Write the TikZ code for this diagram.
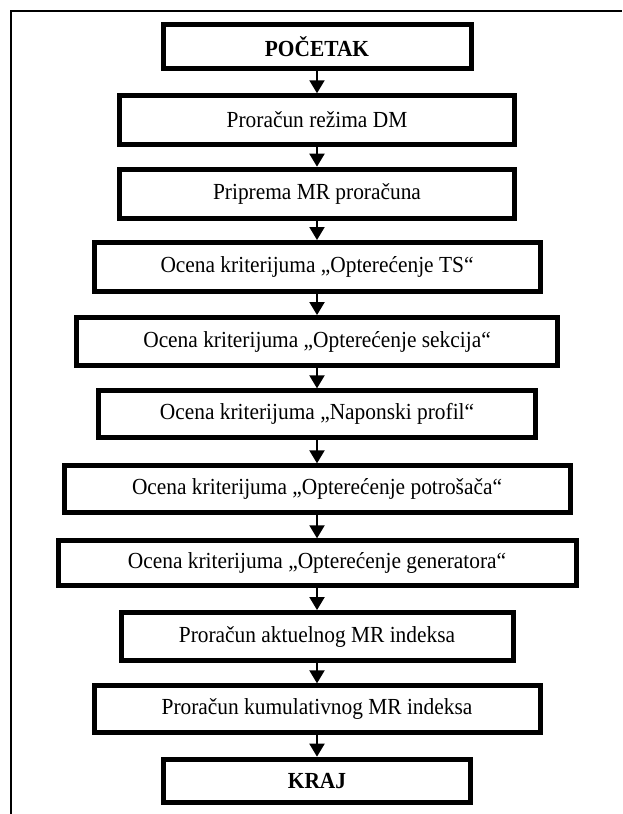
\documentclass[tikz,border=0pt]{standalone}
\usepackage{fontspec}
\setmainfont{Liberation Serif}[FakeStretch=0.93]
\usetikzlibrary{arrows.meta}
\begin{document}
\begin{tikzpicture}[x=1pt,y=-1pt,
  stepbox/.style={draw=black, line width=5pt, fill=white, inner sep=0pt,
    font=\fontsize{23}{27}\selectfont, align=center},
  flow/.style={line width=2pt, -{Triangle[width=15pt,length=13pt]}},
  frame/.style={line width=1.5pt}]
\useasboundingbox (0,0) rectangle (622,814);
\fill[white] (0,0) rectangle (622,814);
\coordinate (fa) at (11,814);
\coordinate (fb) at (11,11);
\coordinate (fc) at (622,11);
\draw[frame] (fa) -- (fb) -- (fc);

\node[stepbox, minimum width=308pt, minimum height=44pt] (b1) at (317,46.2) {\textbf{POČETAK}};
\node[stepbox, minimum width=395pt, minimum height=48.5pt] (b2) at (317,120) {Proračun režima DM};
\node[stepbox, minimum width=395pt, minimum height=49pt] (b3) at (317,193.7) {Priprema MR proračuna};
\node[stepbox, minimum width=446pt, minimum height=49pt] (b4) at (317,267) {Ocena kriterijuma „Opterećenje TS“};
\node[stepbox, minimum width=481pt, minimum height=48.3pt] (b5) at (317,341.7) {Ocena kriterijuma „Opterećenje sekcija“};
\node[stepbox, minimum width=437pt, minimum height=46.7pt] (b6) at (317,414.2) {Ocena kriterijuma „Naponski profil“};
\node[stepbox, minimum width=506pt, minimum height=46.7pt] (b7) at (317,489.2) {Ocena kriterijuma „Opterećenje potrošača“};
\node[stepbox, minimum width=518pt, minimum height=45pt] (b8) at (317,563.3) {Ocena kriterijuma „Opterećenje generatora“};
\node[stepbox, minimum width=392pt, minimum height=48.3pt] (b9) at (317,636.7) {Proračun aktuelnog MR indeksa};
\node[stepbox, minimum width=446pt, minimum height=46.7pt] (b10) at (317,709.2) {Proračun kumulativnog MR indeksa};
\node[stepbox, minimum width=307pt, minimum height=43.3pt] (b11) at (317,780.8) {\textbf{KRAJ}};

\foreach \a/\b in {b1/b2,b2/b3,b3/b4,b4/b5,b5/b6,b6/b7,b7/b8,b8/b9,b9/b10,b10/b11}
  \draw[flow] (\a.south) -- (\b.north);
\end{tikzpicture}
\end{document}
